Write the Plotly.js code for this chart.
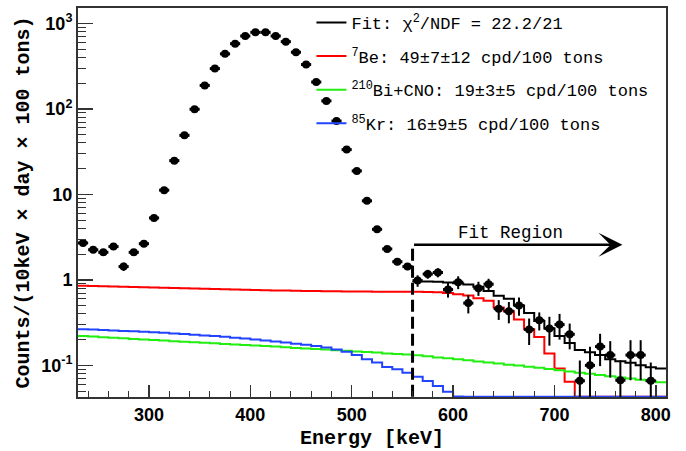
<!DOCTYPE html>
<html><head><meta charset="utf-8">
<script src="https://cdn.plot.ly/plotly-3.0.1.min.js"></script>
<style>html,body{margin:0;padding:0;background:#fff}#chart{width:686px;height:451px}</style>
</head><body><div id="chart"></div>
<script>
// Bin centres (keV), 10 keV bins
const energy = [235,245,255,265,275,285,295,305,315,325,335,345,355,365,375,385,395,405,415,425,435,445,455,465,475,485,495,505,515,525,535,545,555,
  565,575,585,595,605,615,625,635,645,655,665,675,685,695,705,715,725,735,745,755,765,775,785,795,805];
const binWidth = 10;

// Measured spectrum: counts/(10 keV x day x 100 tons)
const counts = [2.7,2.25,2.1,2.45,1.43,2.1,2.65,5.3,11.2,24.8,49,99,188,296,440,579,712,786,786,712,611,460,330,206,124,72,33.4,18.8,8.4,3.9,2.3,1.63,1.43,
  0.98,1.17,1.22,0.77,0.94,0.535,0.80,0.89,0.46,0.43,0.50,0.263,0.336,0.27,0.30,0.231,0.066,0.10,0.166,0.132,0.067,0.132,0.132,0.066,null];
const countErr = [0.18,0.16,0.16,0.17,0.16,0.16,0.18,0.25,0.35,0.5,0.7,1.0,1.4,1.7,2.1,2.4,2.7,2.8,2.8,2.7,2.5,2.1,1.8,1.4,1.1,0.85,0.6,0.43,0.3,0.2,0.16,0.14,0.13,
  0.15,0.14,0.15,0.15,0.16,0.13,0.15,0.14,0.12,0.12,0.12,0.09,0.08,0.10,0.10,0.077,0.048,0.065,0.068,0.06,0.048,0.065,0.065,0.042,null];

// Fit components (per bin)
const be7 = [0.855,0.849,0.843,0.837,0.831,0.825,0.819,0.813,0.808,0.802,0.797,0.791,0.786,0.781,0.776,0.771,0.766,0.761,0.757,0.753,0.749,0.745,0.742,0.739,0.736,0.734,0.732,0.730,0.729,0.728,0.727,0.726,0.726,
  0.725,0.72,0.715,0.70,0.68,0.655,0.61,0.57,0.475,0.43,0.345,0.265,0.215,0.138,0.092,0.0645,0.03,0.02,0.012,0.007,0.004,0.002,0.001,0.0005,0.0002];
const biCno = [0.220,0.217,0.213,0.210,0.207,0.204,0.201,0.198,0.195,0.192,0.189,0.187,0.184,0.181,0.178,0.176,0.173,0.171,0.168,0.166,0.163,0.160,0.158,0.155,0.153,0.150,0.148,0.145,0.143,0.141,0.138,0.136,0.134,
  0.131,0.128,0.124,0.121,0.118,0.115,0.111,0.108,0.105,0.102,0.0995,0.0966,0.0935,0.0906,0.0877,0.0849,0.0822,0.0796,0.0771,0.0746,0.0723,0.0700,0.0678,0.0656,0.0635];
const kr85 = [0.265,0.262,0.259,0.256,0.253,0.250,0.247,0.244,0.240,0.236,0.232,0.228,0.224,0.220,0.216,0.211,0.206,0.201,0.196,0.190,0.185,0.179,
  0.174,0.168,0.162,0.153,0.144,0.132,0.118,0.108,0.096,0.090,0.082,
  0.0736,0.0656,0.0575,0.0493,0.0432,0.036,0.029,0.022,0.016,0.011,0.007,0.004,0.002,0.001,0,0,0,0,0,0,0,0,0,0,0];

// Total fit, only inside fit region (bins 565..805)
const fitEnergy = [565,575,585,595,605,615,625,635,645,655,665,675,685,695,705,715,725,735,745,755,765,775,785,795,805];
const fitTotal = [0.96,0.96,0.95,0.93,0.91,0.88,0.83,0.74,0.65,0.60,0.50,0.41,0.33,0.27,0.22,0.183,0.151,0.142,0.132,0.118,0.112,0.107,0.100,0.095,0.092];

const fitStart = 560;
const fitArrowEnd = 767;
const fitArrowLevel = 2.57;

const legendLabels = ['Fit: \u03c7<sup>2</sup>/NDF = 22.2/21',
  '<sup>7</sup>Be: 49\u00b17\u00b112 cpd/100 tons',
  '<sup>210</sup>Bi+CNO: 19\u00b13\u00b15 cpd/100 tons',
  '<sup>85</sup>Kr: 16\u00b19\u00b15 cpd/100 tons'];

const yRange = [-1.37, 3.18];
const floorVal = Math.pow(10, yRange[0] + 0.004);

function histo(centers, vals) {
  const x = centers.map(c => c - binWidth / 2);
  x.push(centers[centers.length - 1] + binWidth / 2);
  const y = vals.map(v => Math.max(v, floorVal));
  y.push(y[y.length - 1]);
  return {x, y};
}

const hBe = histo(energy, be7), hBi = histo(energy, biCno), hKr = histo(energy, kr85), hFit = histo(fitEnergy, fitTotal);

const traces = [
  {x: hBe.x, y: hBe.y, type: 'scatter', mode: 'lines', line: {shape: 'hv', color: '#ff0000', width: 2}, name: legendLabels[1], legendgroup: 'b', legendrank: 2},
  {x: hBi.x, y: hBi.y, type: 'scatter', mode: 'lines', line: {shape: 'hv', color: '#22ee11', width: 2}, name: legendLabels[2], legendgroup: 'c', legendrank: 3},
  {x: hKr.x, y: hKr.y, type: 'scatter', mode: 'lines', line: {shape: 'hv', color: '#2244ff', width: 2}, name: legendLabels[3], legendgroup: 'd', legendrank: 4},
  {x: hFit.x, y: hFit.y, type: 'scatter', mode: 'lines', line: {shape: 'hv', color: '#000000', width: 2}, name: legendLabels[0], legendgroup: 'a', legendrank: 1},
  {x: [fitStart, fitStart], y: [floorVal, fitArrowLevel], type: 'scatter', mode: 'lines', line: {color: '#000', width: 3, dash: '12px,5px'}, showlegend: false, hoverinfo: 'skip'},
  {x: energy, y: counts, type: 'scatter', mode: 'markers', showlegend: false,
   marker: {symbol: 'circle', size: 8, color: '#000'},
   error_y: {type: 'data', array: countErr, visible: true, thickness: 2, width: 0, color: '#000'},
   error_x: {type: 'constant', value: binWidth / 2, visible: true, thickness: 3, width: 0, color: '#000'}}
];

const minorY = [];
for (let d = -2; d <= 3; d++) for (let k = 2; k <= 9; k++) minorY.push(k * Math.pow(10, d));

const layout = {
  width: 686, height: 451,
  margin: {l: 78, r: 20, t: 5, b: 54},
  paper_bgcolor: '#fff', plot_bgcolor: '#fff',
  showlegend: true,
  legend: {x: 0.397, y: 1.008, xanchor: 'left', yanchor: 'top', bgcolor: 'rgba(0,0,0,0)',
    font: {family: 'Liberation Mono, Courier New, monospace', size: 17, color: '#000'},
    tracegroupgap: 8.5, traceorder: 'grouped'},
  xaxis: {range: [230, 810], tickvals: [300, 400, 500, 600, 700, 800], ticks: 'inside', ticklen: 12, tickwidth: 1.5, tickcolor: '#333',
    minor: {dtick: 20, tick0: 0, ticks: 'inside', ticklen: 6, tickwidth: 1, tickcolor: '#333'},
    showline: true, linecolor: '#333', linewidth: 2, mirror: true, showgrid: false, zeroline: false,
    tickfont: {family: 'Liberation Sans, Arial, sans-serif', size: 18, weight: 'bold', color: '#000'},
    title: {text: 'Energy [keV]', font: {family: 'Liberation Mono, Courier New, monospace', size: 20, weight: 'bold', color: '#000'}, standoff: 6}},
  yaxis: {type: 'log', range: yRange, tickvals: [0.1, 1, 10, 100, 1000],
    ticktext: ['10<sup>-1</sup>', '1', '10', '10<sup>2</sup>', '10<sup>3</sup>'],
    ticks: 'inside', ticklen: 15, tickwidth: 1.5, tickcolor: '#333',
    minor: {tickvals: minorY, ticks: 'inside', ticklen: 8, tickwidth: 1, tickcolor: '#333'},
    showline: true, linecolor: '#333', linewidth: 2, mirror: true, showgrid: false, zeroline: false,
    tickfont: {family: 'Liberation Sans, Arial, sans-serif', size: 18, weight: 'bold', color: '#000'},
    title: {text: 'Counts/(10keV \u00d7 day \u00d7 100 tons)', font: {family: 'Liberation Mono, Courier New, monospace', size: 20, weight: 'bold', color: '#000'}, standoff: 6}},
  annotations: [
    {x: fitArrowEnd, y: Math.log10(fitArrowLevel), xref: 'x', yref: 'y', ax: fitStart, ay: Math.log10(fitArrowLevel), axref: 'x', ayref: 'y',
     showarrow: true, arrowhead: 3, arrowsize: 1.6, arrowwidth: 2.5, arrowcolor: '#000', text: ''},
    {x: 657, y: Math.log10(3.57), xref: 'x', yref: 'y', text: 'Fit Region', showarrow: false,
     font: {family: 'Liberation Mono, Courier New, monospace', size: 17.5, color: '#000'}}
  ]
};

Plotly.newPlot('chart', traces, layout, {displayModeBar: false, staticPlot: true});
</script>
</body></html>
